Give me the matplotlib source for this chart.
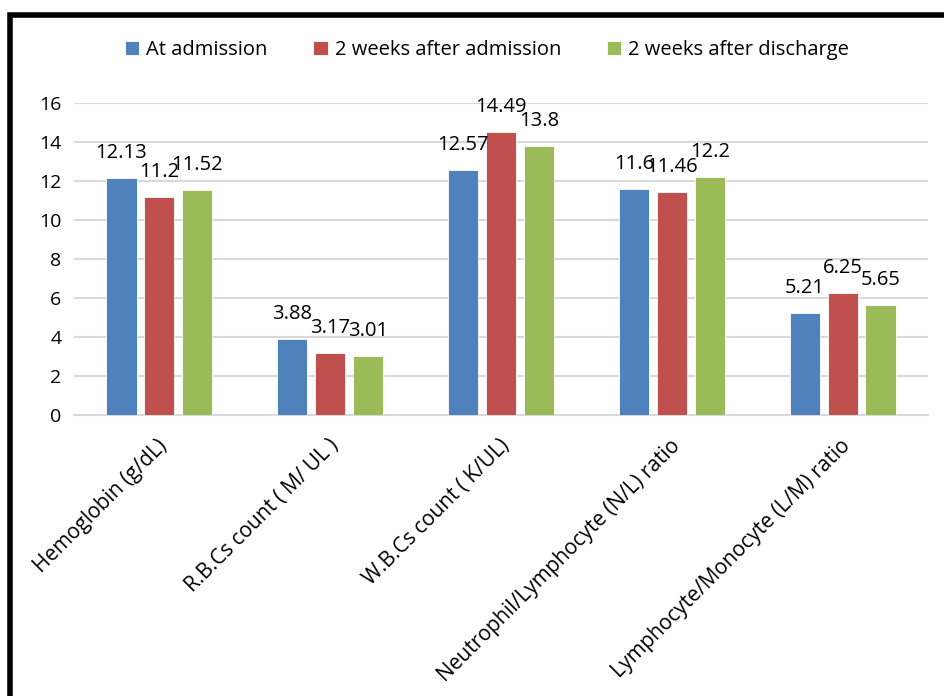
import numpy as np
import matplotlib
matplotlib.use('Agg')
import matplotlib.pyplot as plt
import matplotlib.transforms as mtransforms
from matplotlib.patches import Rectangle

# Valores por parâmetro e momento da coleta
categorias = ['Hemoglobin (g/dL)', 'R.B.Cs count ( M/ UL )', 'W.B.Cs count ( K/UL)',
              'Neutrophil/Lymphocyte (N/L) ratio', 'Lymphocyte/Monocyte (L/M) ratio']
admissao = [12.13, 3.88, 12.57, 11.6, 5.21]
duas_sem_admissao = [11.2, 3.17, 14.49, 11.46, 6.25]
duas_sem_alta = [11.52, 3.01, 13.8, 12.2, 5.65]

series = [
    ('At admission', admissao, '#4F81BD'),
    ('2 weeks after admission', duas_sem_admissao, '#C0504D'),
    ('2 weeks after discharge', duas_sem_alta, '#9BBB59'),
]

plt.rcParams['font.family'] = ['Open Sans', 'DejaVu Sans']

fig = plt.figure(figsize=(9.44, 6.96), dpi=100)
ax = fig.add_axes([74 / 944, 1 - 415 / 696, (928 - 74) / 944, (415 - 103) / 696])

x = np.arange(len(categorias))
passo = 0.222
largura = 0.176

for k, (nome, valores, cor) in enumerate(series):
    pos = x + (k - 1) * passo
    barras = ax.bar(pos, valores, largura, color=cor, label=nome,
                    edgecolor='white', linewidth=0.6, zorder=3)
    for b, v in zip(barras, valores):
        ax.annotate(f'{v:g}', (b.get_x() + b.get_width() / 2, v),
                    xytext=(0, 18), textcoords='offset points',
                    ha='center', va='center', fontsize=14.5, color='black', zorder=4)

ax.set_xlim(-0.5, len(categorias) - 0.5)
ax.set_ylim(0, 16)
ax.set_yticks(range(0, 17, 2))
ax.yaxis.grid(True, color='#D9D9D9', linewidth=1.5, zorder=0)
ax.set_axisbelow(True)

for lado in ['top', 'right', 'left']:
    ax.spines[lado].set_visible(False)
ax.spines['bottom'].set_color('#D9D9D9')
ax.spines['bottom'].set_linewidth(1.5)

ax.tick_params(axis='y', length=0, labelsize=14, pad=9)
ax.tick_params(axis='x', length=0, labelsize=15, pad=20)

ax.set_xticks(x)
ax.set_xticklabels(categorias, rotation=45, ha='right', va='center',
                   rotation_mode='anchor')
deslocamento = mtransforms.ScaledTranslation(5 / 100, 0, fig.dpi_scale_trans)
for rotulo in ax.get_xticklabels():
    rotulo.set_transform(rotulo.get_transform() + deslocamento)

fig.legend(loc='center', bbox_to_anchor=(487 / 944, 1 - 50 / 696), ncol=3,
           frameon=False, fontsize=14.5, handlelength=0.7, handleheight=0.7,
           handletextpad=0.35, columnspacing=2.3)

# Moldura preta ao redor do gráfico
moldura = Rectangle((10 / 944, -0.1), 1.2, 1 - 15 / 696 + 0.1,
                    transform=fig.transFigure, fill=False,
                    edgecolor='black', linewidth=4, clip_on=False)
fig.patches.append(moldura)

fig.savefig('out.png', dpi=100)
